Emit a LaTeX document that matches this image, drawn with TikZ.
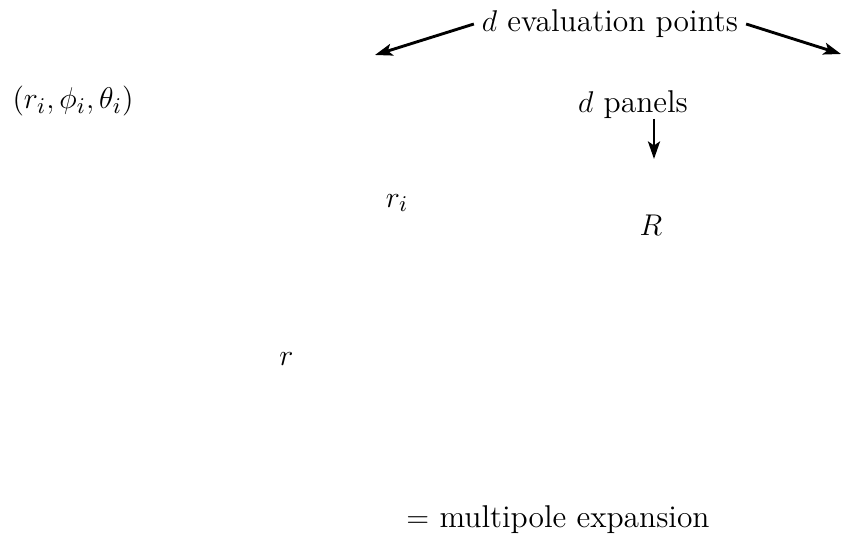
\documentclass[tikz,border=0pt]{standalone}
\usetikzlibrary{arrows.meta}
\begin{document}
\begin{tikzpicture}[x=0.4pt,y=-0.4pt,
  lbl/.style={inner sep=1pt,font=\fontsize{12.6}{15}\selectfont},
  arr/.style={line width=1.15pt,-{Stealth[length=7pt,width=4.8pt,inset=1.6pt]}}]
\useasboundingbox (0,0) rectangle (842,539);
\node[lbl,inner sep=3pt] (eval) at (610,24) {$d$ evaluation points};
\coordinate (el) at (375,55);
\coordinate (er) at (841,54);
\node[lbl] (coords) at (73,101.5) {$(r_i,\phi_i,\theta_i)$};
\node[lbl] (panels) at (633,105) {$d$ panels};
\coordinate (pa) at (654,119);
\coordinate (pb) at (654,159);
\node[lbl] (ri) at (397,203) {$r_i$};
\node[lbl] (R) at (651,225) {$R$};
\node[lbl] (r) at (286.5,359.5) {$r$};
\node[lbl] (mp) at (558,520) {$=$ multipole expansion};
\draw[arr] (eval.west) -- (el);
\draw[arr] (eval.east) -- (er);
\draw[arr] (pa) -- (pb);
\end{tikzpicture}
\end{document}
